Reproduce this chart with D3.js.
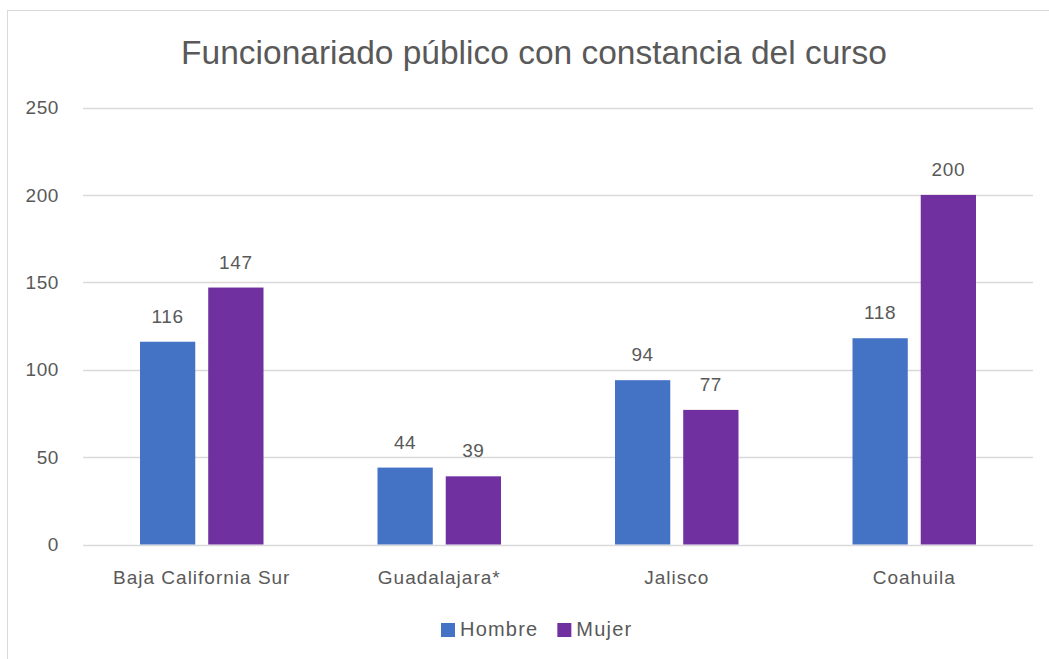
<!DOCTYPE html>
<html>
<head>
<meta charset="utf-8">
<script src="https://cdn.jsdelivr.net/npm/d3@7.9.0/dist/d3.min.js"></script>
<style>
  body { margin: 0; background: #fff; }
  svg { display: block; font-family: 'Liberation Sans', Arial, sans-serif; }
</style>
</head>
<body>
<svg id="chart" width="1049" height="659"></svg>
<script>
const categories = ['Baja California Sur', 'Guadalajara*', 'Jalisco', 'Coahuila'];
const seriesNames = ['Hombre', 'Mujer'];
const hombre = [116, 44, 94, 118];
const mujer = [147, 39, 77, 200];
const yTicks = [0, 50, 100, 150, 200, 250];
const colors = ['#4472C4', '#7030A0'];

const width = 1049;
const height = 659;
const margin = { top: 107.5, right: 16, bottom: 114.5, left: 83 };
const textColor = '#595959';

const svg = d3.select('#chart');

// chart area border (only left/top visible in frame)
svg.append('rect')
  .attr('x', 7.5).attr('y', 10.5)
  .attr('width', width + 20).attr('height', height + 20)
  .attr('fill', '#fff')
  .attr('stroke', '#d9d9d9');

const x0 = d3.scaleBand()
  .domain(categories)
  .range([margin.left, width - margin.right])
  .padding(0);

const groupPad = 57;
const x1 = d3.scaleBand()
  .domain(seriesNames)
  .range([groupPad, x0.bandwidth() - groupPad])
  .paddingInner(0.19)
  .paddingOuter(0);

const y = d3.scaleLinear()
  .domain([0, 250])
  .range([height - margin.bottom, margin.top]);

// gridlines
svg.append('g')
  .selectAll('line')
  .data(yTicks)
  .join('line')
  .attr('x1', margin.left)
  .attr('x2', width - margin.right)
  .attr('y1', (d) => Math.round(y(d)) + 0.5)
  .attr('y2', (d) => Math.round(y(d)) + 0.5)
  .attr('stroke', '#d9d9d9')
  .attr('stroke-width', 1.3);

// y labels
svg.append('g')
  .selectAll('text')
  .data(yTicks)
  .join('text')
  .attr('x', 59)
  .attr('y', (d) => y(d))
  .attr('dy', '0.35em')
  .attr('text-anchor', 'end')
  .attr('fill', textColor)
  .style('font-size', '19px')
  .style('letter-spacing', '0.6px')
  .text((d) => d);

const rows = categories.map((c, i) => ({
  category: c,
  values: [
    { key: 'Hombre', value: hombre[i] },
    { key: 'Mujer', value: mujer[i] }
  ]
}));

const groups = svg.append('g')
  .selectAll('g')
  .data(rows)
  .join('g')
  .attr('transform', (d) => `translate(${x0(d.category)},0)`);

groups.selectAll('rect')
  .data((d) => d.values)
  .join('rect')
  .attr('x', (d) => x1(d.key))
  .attr('y', (d) => y(d.value))
  .attr('width', x1.bandwidth())
  .attr('height', (d) => y(0) - y(d.value))
  .attr('fill', (d, i) => colors[i]);

groups.selectAll('text.val')
  .data((d) => d.values)
  .join('text')
  .attr('class', 'val')
  .attr('x', (d) => x1(d.key) + x1.bandwidth() / 2)
  .attr('y', (d) => y(d.value) - 19)
  .attr('text-anchor', 'middle')
  .attr('fill', textColor)
  .style('font-size', '19px')
  .style('letter-spacing', '0.6px')
  .text((d) => d.value);

// category labels
svg.append('g')
  .selectAll('text')
  .data(categories)
  .join('text')
  .attr('x', (d) => x0(d) + x0.bandwidth() / 2)
  .attr('y', 584)
  .attr('text-anchor', 'middle')
  .attr('fill', textColor)
  .style('font-size', '19px')
  .style('letter-spacing', '1px')
  .text((d) => d);

// title
svg.append('text')
  .attr('x', 534)
  .attr('y', 64)
  .attr('text-anchor', 'middle')
  .attr('fill', textColor)
  .style('font-size', '33.5px')
  .text('Funcionariado público con constancia del curso');

// legend
const legend = svg.append('g');
let lx = 441;
seriesNames.forEach((name, i) => {
  legend.append('rect')
    .attr('x', lx).attr('y', 623)
    .attr('width', 14).attr('height', 14)
    .attr('fill', colors[i]);
  const t = legend.append('text')
    .attr('x', lx + 19)
    .attr('y', 636)
    .attr('fill', textColor)
    .style('font-size', '20px')
    .style('letter-spacing', '1.2px')
    .text(name);
  lx += 19 + t.node().getComputedTextLength() + 19;
});
</script>
</body>
</html>
